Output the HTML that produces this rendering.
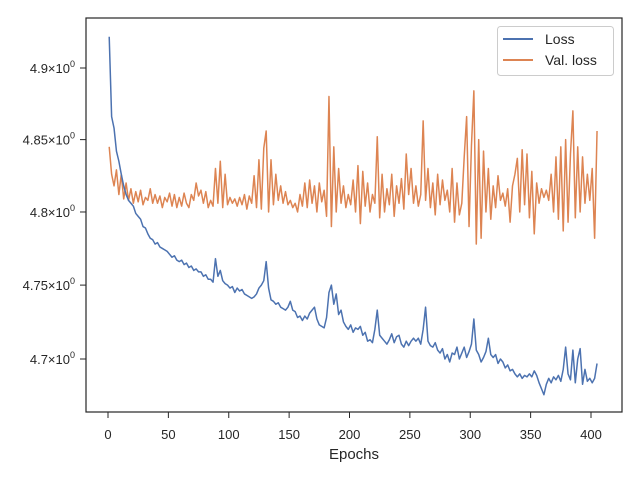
<!DOCTYPE html>
<html><head><meta charset="utf-8"><style>
html,body{margin:0;padding:0;background:#fff}
svg{display:block;font-family:"Liberation Sans","DejaVu Sans",sans-serif}
</style></head><body>
<svg id="chart" width="640" height="480">
<rect x="0" y="0" width="640" height="480" fill="#fff"/>
<g id="grid"></g>
<g id="series"></g>
<rect x="86" y="18" width="536" height="394" fill="none" stroke="#262626" stroke-width="1.2"/>
<g id="axes"></g>
<text x="354" y="459" text-anchor="middle" font-size="15" fill="#262626">Epochs</text>
<g>
<rect x="497.5" y="26.5" width="116" height="49" rx="3" fill="#fff" fill-opacity="0.8" stroke="#ccc"/>
<line x1="503" y1="39" x2="533" y2="39" stroke="#4c72b0" stroke-width="2"/>
<text x="545" y="44" font-size="14" fill="#262626">Loss</text>
<line x1="503" y1="60" x2="533" y2="60" stroke="#dd8452" stroke-width="2"/>
<text x="545" y="65" font-size="14" fill="#262626">Val. loss</text>
</g>
</svg>
<script>
const epochStart = 1;
const epochStep = 2;
const xTicks = [0,50,100,150,200,250,300,350,400];
const yTicks = [4.7,4.75,4.8,4.85,4.9];
const yTickLabels = ["4.7","4.75","4.8","4.85","4.9"];
const lossValues = [
4.922,4.866,4.858,4.842,4.835,4.826,4.818,4.812,4.808,4.806,
4.804,4.799,4.797,4.795,4.790,4.789,4.785,4.782,4.781,4.778,
4.779,4.776,4.775,4.774,4.773,4.771,4.769,4.770,4.767,4.766,
4.767,4.764,4.765,4.762,4.763,4.760,4.761,4.759,4.759,4.756,
4.757,4.754,4.754,4.752,4.768,4.756,4.760,4.753,4.751,4.750,
4.748,4.749,4.745,4.748,4.746,4.747,4.744,4.743,4.742,4.741,
4.742,4.744,4.748,4.750,4.753,4.766,4.748,4.740,4.739,4.737,
4.738,4.735,4.734,4.733,4.735,4.739,4.733,4.732,4.728,4.729,
4.726,4.729,4.727,4.731,4.733,4.735,4.727,4.723,4.722,4.721,
4.728,4.745,4.750,4.737,4.744,4.730,4.733,4.725,4.722,4.720,
4.723,4.718,4.721,4.720,4.722,4.716,4.718,4.712,4.713,4.711,
4.720,4.733,4.716,4.714,4.712,4.710,4.713,4.717,4.711,4.715,
4.716,4.710,4.708,4.712,4.709,4.712,4.714,4.712,4.714,4.710,
4.720,4.735,4.712,4.709,4.708,4.711,4.706,4.704,4.707,4.700,
4.703,4.698,4.704,4.703,4.708,4.700,4.704,4.708,4.701,4.705,
4.710,4.727,4.706,4.703,4.698,4.701,4.705,4.714,4.703,4.701,
4.703,4.697,4.700,4.698,4.694,4.696,4.692,4.693,4.690,4.688,
4.690,4.687,4.689,4.688,4.690,4.688,4.692,4.689,4.684,4.680,
4.676,4.683,4.687,4.684,4.688,4.686,4.689,4.685,4.693,4.708,
4.690,4.686,4.706,4.684,4.700,4.707,4.683,4.693,4.685,4.687,
4.684,4.687,4.697];
const valLossValues = [
4.845,4.826,4.818,4.829,4.812,4.826,4.809,4.820,4.808,4.816,
4.806,4.814,4.807,4.815,4.805,4.810,4.808,4.816,4.806,4.812,
4.806,4.811,4.803,4.810,4.807,4.813,4.804,4.812,4.803,4.810,
4.804,4.813,4.806,4.803,4.812,4.808,4.820,4.811,4.815,4.806,
4.814,4.803,4.808,4.804,4.830,4.806,4.835,4.803,4.826,4.805,
4.810,4.806,4.809,4.804,4.810,4.805,4.812,4.802,4.811,4.806,
4.825,4.803,4.836,4.802,4.844,4.856,4.800,4.836,4.805,4.826,
4.808,4.818,4.806,4.814,4.805,4.808,4.803,4.806,4.800,4.812,
4.804,4.820,4.803,4.822,4.806,4.818,4.800,4.820,4.807,4.815,
4.797,4.880,4.790,4.845,4.800,4.830,4.806,4.818,4.803,4.812,
4.805,4.822,4.800,4.832,4.792,4.828,4.804,4.820,4.800,4.812,
4.806,4.852,4.796,4.826,4.800,4.816,4.805,4.826,4.797,4.818,
4.806,4.823,4.802,4.840,4.812,4.830,4.806,4.818,4.804,4.812,
4.863,4.808,4.830,4.803,4.820,4.798,4.826,4.805,4.822,4.808,
4.815,4.800,4.830,4.793,4.820,4.798,4.806,4.838,4.866,4.790,
4.846,4.884,4.778,4.850,4.782,4.842,4.800,4.830,4.795,4.818,
4.803,4.825,4.808,4.813,4.804,4.816,4.793,4.818,4.826,4.837,
4.800,4.843,4.805,4.840,4.796,4.828,4.785,4.820,4.806,4.816,
4.810,4.815,4.808,4.826,4.800,4.838,4.795,4.845,4.787,4.850,
4.793,4.840,4.870,4.796,4.845,4.800,4.838,4.806,4.826,4.808,
4.830,4.782,4.856];

const NS = "http://www.w3.org/2000/svg";
const X0 = 108, XK = (591 - 108) / 400;
function xScale(e){ return X0 + e * XK; }
const YREF = 4.7, YREFPX = 359, YK = (359 - 68) / (Math.log(4.9) - Math.log(4.7));
function yScale(v){ return YREFPX - YK * (Math.log(v) - Math.log(YREF)); }

const series = document.getElementById('series');
function drawLine(vals, color, name){
  let d = '';
  vals.forEach((v,i)=>{
    const e = epochStart + i * epochStep;
    d += (i ? 'L' : 'M') + xScale(e).toFixed(2) + ' ' + yScale(v).toFixed(2);
  });
  const p = document.createElementNS(NS,'path');
  p.setAttribute('d', d);
  p.setAttribute('fill','none');
  p.setAttribute('stroke', color);
  p.setAttribute('stroke-width','1.5');
  p.setAttribute('stroke-linejoin','round');
  
  
  series.appendChild(p);
}
drawLine(valLossValues, '#dd8452', 'val-loss-line');
drawLine(lossValues, '#4c72b0', 'loss-line');

const axes = document.getElementById('axes');
xTicks.forEach(t=>{
  const x = xScale(t);
  const l = document.createElementNS(NS,'line');
  l.setAttribute('x1',x); l.setAttribute('x2',x);
  l.setAttribute('y1',412); l.setAttribute('y2',418);
  l.setAttribute('stroke','#262626');
  
  
  axes.appendChild(l);
  const tx = document.createElementNS(NS,'text');
  tx.setAttribute('x',x); tx.setAttribute('y',439);
  tx.setAttribute('text-anchor','middle');
  tx.setAttribute('font-size','13');
  tx.setAttribute('fill','#262626');
  tx.textContent = t;
  
  
  axes.appendChild(tx);
});
yTicks.forEach((t,i)=>{
  const y = yScale(t);
  const l = document.createElementNS(NS,'line');
  l.setAttribute('x1',80); l.setAttribute('x2',86);
  l.setAttribute('y1',y); l.setAttribute('y2',y);
  l.setAttribute('stroke','#262626');
  
  
  axes.appendChild(l);
  const tx = document.createElementNS(NS,'text');
  tx.setAttribute('x',75); tx.setAttribute('y',y+5);
  tx.setAttribute('text-anchor','end');
  tx.setAttribute('font-size','13');
  tx.setAttribute('fill','#262626');
  
  
  const a = document.createElementNS(NS,'tspan');
  a.textContent = yTickLabels[i] + '\u00d710';
  const s = document.createElementNS(NS,'tspan');
  s.setAttribute('dy','-6'); s.setAttribute('font-size','9');
  s.textContent = '0';
  tx.appendChild(a); tx.appendChild(s);
  axes.appendChild(tx);
});
</script>
</body></html>
